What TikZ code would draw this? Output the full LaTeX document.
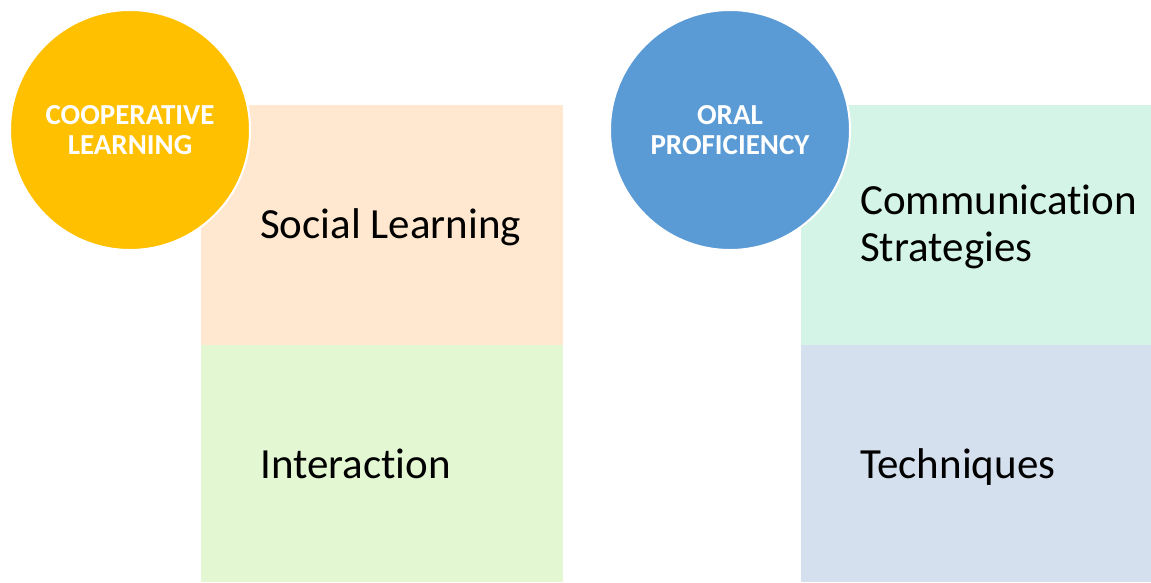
\documentclass[tikz,border=0pt]{standalone}
\usepackage{fontspec}
\setmainfont{Carlito}[RawFeature=-liga]
\definecolor{cyel}{HTML}{FFC000}
\definecolor{cblu}{HTML}{5B9BD5}
\definecolor{corg}{HTML}{FFE8CF}
\definecolor{cgrn}{HTML}{E2F7D2}
\definecolor{cmnt}{HTML}{D3F4E6}
\definecolor{cgry}{HTML}{D5E0EE}
\tikzset{
  x=1pt, y=-1pt,
  panel/.style={draw=none, minimum width=#1, anchor=north west, inner sep=0pt},
  ring/.style={circle, draw=white, line width=2pt, minimum size=240pt, inner sep=0pt,
    text=white, font=\fontsize{29}{29.5}\selectfont\bfseries, align=center},
  lbl/.style={anchor=base west, font=\fontsize{43}{47}\selectfont, align=left, text=black, inner sep=0pt}
}
\begin{document}
\begin{tikzpicture}
\useasboundingbox (0,0) rectangle (1151,582);
\node[panel=362pt, minimum height=240pt, fill=corg] (r1) at (201,105) {};
\node[panel=362pt, minimum height=237pt, fill=cgrn] (r2) at (201,345) {};
\node[panel=350pt, minimum height=240pt, fill=cmnt] (r3) at (801,105) {};
\node[panel=350pt, minimum height=237pt, fill=cgry] (r4) at (801,345) {};
\node[lbl] (t1) at ([shift={(59,133.3)}]r1.north west) {Social Learning};
\node[lbl] (t2) at ([shift={(59,133.3)}]r2.north west) {Interaction};
\node[lbl] (t3) at ([shift={(59,156.7)}]r3.north west) {Communication\\Strategies};
\node[lbl] (t4) at ([shift={(59,133.3)}]r4.north west) {Techniques};
\node[ring, fill=cyel] (c1) at (130,130) {COOPERATIVE\\LEARNING};
\node[ring, fill=cblu] (c2) at (730,130) {ORAL\\PROFICIENCY};
\end{tikzpicture}
\end{document}
